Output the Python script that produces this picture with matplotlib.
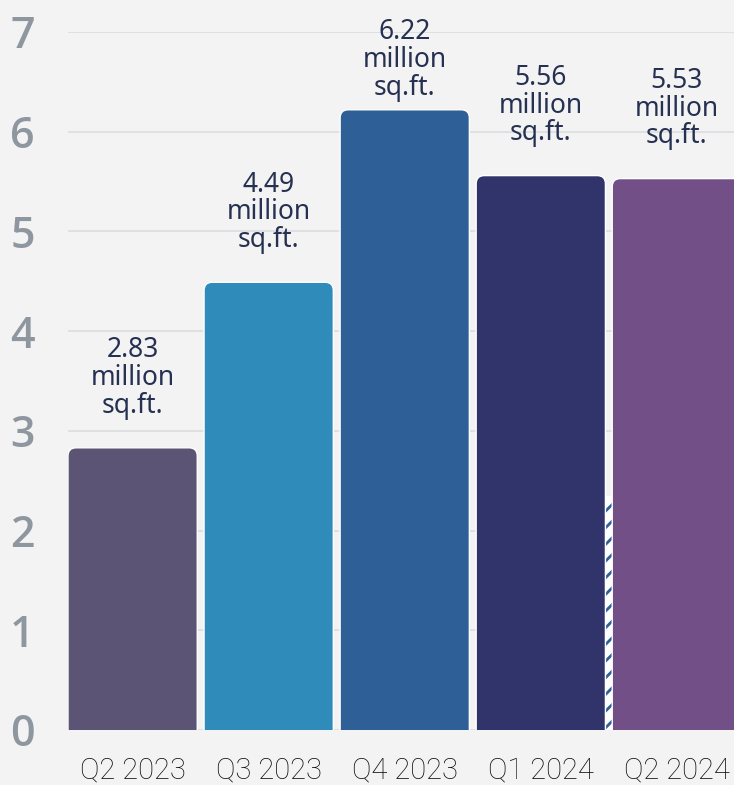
import matplotlib
matplotlib.use("Agg")
import matplotlib.pyplot as plt
from matplotlib.patches import FancyBboxPatch

categories = ["Q2 2023", "Q3 2023", "Q4 2023", "Q1 2024", "Q2 2024"]
values = [2.83, 4.49, 6.22, 5.56, 5.53]
bar_labels = ["2.83\nmillion\nsq.ft.", "4.49\nmillion\nsq.ft.", "6.22\nmillion\nsq.ft.",
              "5.56\nmillion\nsq.ft.", "5.53\nmillion\nsq.ft."]
colors = ["#5b5474", "#2e8bba", "#2e5f97", "#30346b", "#724f87"]
yticks = [0, 1, 2, 3, 4, 5, 6, 7]
hatch_strip_height = 2.35  # decorative strip between Q1 and Q2 2024

plt.rcParams["hatch.linewidth"] = 2.0

W, H = 734, 785
fig = plt.figure(figsize=(W / 100, H / 100), dpi=100)
fig.patch.set_facecolor("#f3f3f3")
ax = fig.add_axes([68 / W, 55 / H, 1 - 68 / W, (730 - 32) / H])
ax.set_facecolor("#f3f3f3")

ax.set_xlim(-0.475, 4.42)
ax.set_ylim(0, 7)
for s in ax.spines.values():
    s.set_visible(False)

for t in yticks:
    ax.axhline(t, color="#dcdde1", lw=1.2, zorder=0)

bw = 0.95
x_px_per_unit = 136.0
y_px_per_unit = 99.75
for i, (v, c, lab) in enumerate(zip(values, colors, bar_labels)):
    p = FancyBboxPatch((i - bw / 2, -0.3), bw, v + 0.3,
                       boxstyle="round,pad=0,rounding_size=0.06",
                       mutation_aspect=x_px_per_unit / y_px_per_unit,
                       facecolor=c, edgecolor="#ffffff", lw=1.0, zorder=2)
    ax.add_patch(p)
    ly = min(v + 0.7, 6.72)
    ax.text(i, ly, lab, ha="center", va="center", fontsize=19,
            family="Noto Sans", fontweight="medium", color="#263152",
            linespacing=0.98, clip_on=False, zorder=3)

# decorative hatched strip
ax.bar(3.5, hatch_strip_height, width=0.05, facecolor="#ffffff",
       edgecolor="#2e5f97", hatch="//", lw=0, zorder=1)

ax.set_yticks(yticks)
ax.set_yticklabels([str(t) for t in yticks], fontsize=31, color="#8e979f",
                   family="Open Sans", fontweight="semibold")
ax.tick_params(axis="y", length=0, pad=24)
ax.set_xticks(range(len(categories)))
ax.set_xticklabels(categories, fontsize=21, color="#0c0c10",
                   family="Roboto", fontweight="light")
ax.tick_params(axis="x", length=0, pad=19)

fig.savefig("out.png", dpi=100, facecolor=fig.get_facecolor())
